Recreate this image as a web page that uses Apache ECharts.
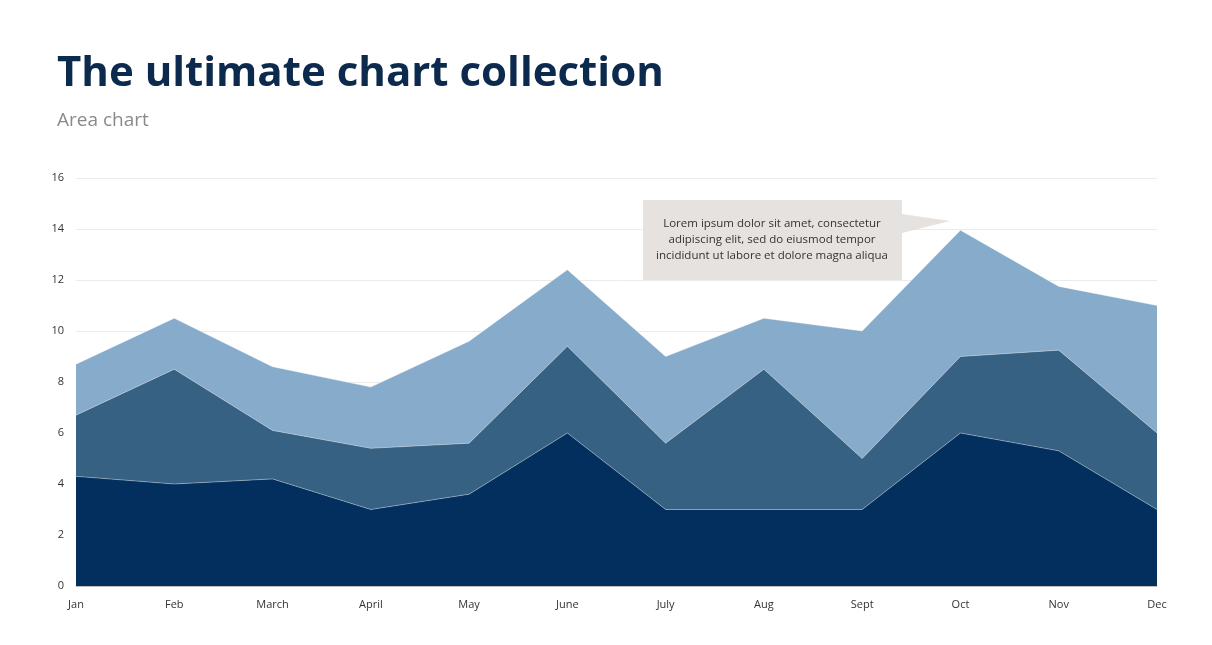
<!DOCTYPE html>
<html>
<head>
<meta charset="utf-8">
<script src="https://cdn.jsdelivr.net/npm/echarts@6/dist/echarts.min.js"></script>
<style>
	html, body { margin: 0; padding: 0; background: #fff; }
	#chart { width: 1212px; height: 645px; }
</style>
</head>
<body>
<div id="chart"></div>
<script>
// chart values
const months = ['Jan', 'Feb', 'March', 'April', 'May', 'June', 'July', 'Aug', 'Sept', 'Oct', 'Nov', 'Dec'];
const seriesA = [4.3, 4.0, 4.2, 3.0, 3.6, 6.0, 3.0, 3.0, 3.0, 6.0, 5.3, 3.0];
const seriesB = [2.4, 4.5, 1.9, 2.4, 2.0, 3.4, 2.6, 5.5, 2.0, 3.0, 3.95, 3.0];
const seriesC = [2.0, 2.0, 2.5, 2.4, 4.0, 3.0, 3.4, 2.0, 5.0, 4.95, 2.5, 5.0];
const yTicks = [0, 2, 4, 6, 8, 10, 12, 14, 16];
const calloutText = 'Lorem ipsum dolor sit amet, consectetur\nadipiscing elit, sed do eiusmod tempor\nincididunt ut labore et dolore magna aliqua';

const colors = ['#022f5e', '#366183', '#87abcb'];

document.addEventListener('DOMContentLoaded', () => {
	const chart = echarts.init(document.getElementById('chart'), null, { renderer: 'canvas' });

	function areaSeries(name, data, idx) {
		return {
			name: name,
			type: 'line',
			stack: 'total',
			data: data,
			symbol: 'none',
			z: 3 - idx,
			lineStyle: { width: 1, color: 'rgba(255,255,255,0.35)' },
			areaStyle: { color: colors[idx], opacity: 1 },
			emphasis: { disabled: true }
		};
	}

	const option = {
		animation: false,
		title: {
			text: 'The ultimate chart collection',
			subtext: 'Area chart',
			left: 52,
			top: 48,
			itemGap: 16,
			textStyle: {
				fontFamily: 'Open Sans',
				fontWeight: 'bold',
				fontSize: 42,
				color: '#0c2a4d'
			},
			subtextStyle: {
				fontFamily: 'Open Sans',
				fontSize: 19,
				color: '#8a8a8a'
			}
		},
		grid: { left: 76, right: 55, top: 178, bottom: 59 },
		xAxis: {
			type: 'category',
			data: months,
			boundaryGap: false,
			axisLine: { show: true, lineStyle: { color: '#bfbfbf' } },
			axisTick: { show: false },
			axisLabel: {
				fontFamily: 'Open Sans',
				fontSize: 11,
				color: '#333',
				margin: 13
			}
		},
		yAxis: {
			type: 'value',
			min: yTicks[0],
			max: yTicks[yTicks.length - 1],
			interval: 2,
			axisLine: { show: false },
			axisTick: { show: false },
			axisLabel: {
				fontFamily: 'Open Sans',
				fontSize: 11,
				color: '#333',
				margin: 12
			},
			splitLine: { lineStyle: { color: '#ebebeb', width: 1 } }
		},
		series: [
			areaSeries('A', seriesA, 0),
			areaSeries('B', seriesB, 1),
			areaSeries('C', seriesC, 2)
		],
		graphic: [
			{
				type: 'polygon',
				z: 100,
				shape: {
					points: [[643, 200], [902, 200], [902, 214], [950, 221], [902, 233], [902, 280], [643, 280]]
				},
				style: { fill: '#e6e2df' }
			},
			{
				type: 'text',
				z: 101,
				x: 772,
				y: 216,
				style: {
					text: calloutText,
					align: 'center',
					verticalAlign: 'top',
					fontFamily: 'Open Sans',
					fontSize: 11.5,
					lineHeight: 16,
					fill: '#333'
				}
			}
		]
	};

	if (option && typeof option === 'object') {
		chart.setOption(option);
	}
});
</script>
</body>
</html>
